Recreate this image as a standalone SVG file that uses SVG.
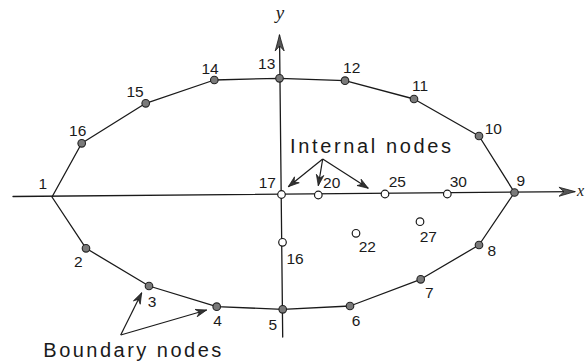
<svg xmlns="http://www.w3.org/2000/svg" width="587" height="364" viewBox="0 0 587 364">
<style>
.ln{fill:none;stroke:#1a1a1a;stroke-width:1.3;stroke-linecap:round;stroke-linejoin:round}
.ann{fill:none;stroke:#1a1a1a;stroke-width:1.2}
.bn{fill:#7a7a7a;stroke:#222;stroke-width:1.1}
.in{fill:#fff;stroke:#1a1a1a;stroke-width:1.2}
.lb{font-family:"Liberation Sans",Arial,sans-serif;font-size:15.5px;fill:#1a1a1a;text-anchor:middle}
.big{font-family:"Liberation Sans",Arial,sans-serif;font-size:20px;fill:#1a1a1a}
.ax{font-family:"Liberation Serif","Times New Roman",serif;font-style:italic;font-size:19px;fill:#1a1a1a}
</style>
<defs>
<marker id="axh" markerUnits="userSpaceOnUse" markerWidth="20" markerHeight="12" viewBox="-17 -6 18 12" refX="0" refY="0" orient="auto">
<path d="M0,0 L-16,-4.5 L-11,0 L-16,4.5 Z" fill="#555" stroke="#1a1a1a" stroke-width="0.8"/>
</marker>
<marker id="ah" markerUnits="userSpaceOnUse" markerWidth="14" markerHeight="10" viewBox="-12 -5 13 10" refX="0" refY="0" orient="auto">
<path d="M0,0 L-11,-3.8 L-7.5,0 L-11,3.8 Z" fill="#333" stroke="#1a1a1a" stroke-width="0.7"/>
</marker>
</defs>
<g id="connectors">
<line class="ln" x1="13" y1="196.5" x2="575" y2="191.6" marker-end="url(#axh)"/>
<line class="ln" x1="282.7" y1="337" x2="279.5" y2="35" marker-end="url(#axh)"/>
<polyline class="ln" points="52,197 81.7,143.3 145.7,103.3 214.3,80 279.5,78.3 345,80.7 414,99 479,136 514.5,192.5 479,245 420.7,279.3 350,306 282.7,309.3 216.7,306.7 149,286 86,248.3 52,197"/>
<line class="ann" x1="322.7" y1="159" x2="288.3" y2="186.7" marker-end="url(#ah)"/>
<line class="ann" x1="322.7" y1="159" x2="318.3" y2="185.7" marker-end="url(#ah)"/>
<line class="ann" x1="322.7" y1="159" x2="368.3" y2="188.3" marker-end="url(#ah)"/>
<line class="ann" x1="120.7" y1="335" x2="141.7" y2="292.7" marker-end="url(#ah)"/>
<line class="ann" x1="120.7" y1="335" x2="206.7" y2="310" marker-end="url(#ah)"/>
</g>
<g id="axis-labels">
<text class="ax" x="280" y="19" text-anchor="middle">y</text>
<text class="ax" x="577" y="196" style="font-size:16px">x</text>
</g>
<g id="n1"><text class="lb" x="42.7" y="188.5">1</text></g>
<g id="n2"><circle class="bn" cx="86" cy="248.3" r="3.8"/><text class="lb" x="78.3" y="267">2</text></g>
<g id="n3"><circle class="bn" cx="149" cy="286" r="3.8"/><text class="lb" x="152" y="307">3</text></g>
<g id="n4"><circle class="bn" cx="216.7" cy="306.7" r="3.8"/><text class="lb" x="217.5" y="325.5">4</text></g>
<g id="n5"><circle class="bn" cx="282.7" cy="309.3" r="3.8"/><text class="lb" x="272.7" y="329.5">5</text></g>
<g id="n6"><circle class="bn" cx="350" cy="306" r="3.8"/><text class="lb" x="356" y="326">6</text></g>
<g id="n7"><circle class="bn" cx="420.7" cy="279.3" r="3.8"/><text class="lb" x="429.3" y="298">7</text></g>
<g id="n8"><circle class="bn" cx="479" cy="245" r="3.8"/><text class="lb" x="491.7" y="256">8</text></g>
<g id="n9"><circle class="bn" cx="514.5" cy="192.5" r="3.8"/><text class="lb" x="520.7" y="185.5">9</text></g>
<g id="n10"><circle class="bn" cx="479" cy="136" r="3.8"/><text class="lb" x="493.3" y="133.5">10</text></g>
<g id="n11"><circle class="bn" cx="414" cy="99" r="3.8"/><text class="lb" x="420" y="90.5">11</text></g>
<g id="n12"><circle class="bn" cx="345" cy="80.7" r="3.8"/><text class="lb" x="351.7" y="72.5">12</text></g>
<g id="n13"><circle class="bn" cx="279.5" cy="78.3" r="3.8"/><text class="lb" x="266.7" y="68.5">13</text></g>
<g id="n14"><circle class="bn" cx="214.3" cy="80" r="3.8"/><text class="lb" x="210" y="73.5">14</text></g>
<g id="n15"><circle class="bn" cx="145.7" cy="103.3" r="3.8"/><text class="lb" x="135" y="96.5">15</text></g>
<g id="n16"><circle class="bn" cx="81.7" cy="143.3" r="3.8"/><text class="lb" x="77.7" y="135.5">16</text></g>
<g id="i17"><circle class="in" cx="281.5" cy="194.5" r="3.8"/><text class="lb" x="267.3" y="187.8">17</text></g>
<g id="i16"><circle class="in" cx="282.5" cy="242.3" r="3.8"/><text class="lb" x="295" y="263.8">16</text></g>
<g id="i20"><circle class="in" cx="318.3" cy="195" r="3.8"/><text class="lb" x="331.7" y="187.8">20</text></g>
<g id="i25"><circle class="in" cx="385" cy="194" r="3.8"/><text class="lb" x="397.3" y="186.5">25</text></g>
<g id="i30"><circle class="in" cx="447.3" cy="194" r="3.8"/><text class="lb" x="458.3" y="187.2">30</text></g>
<g id="i22"><circle class="in" cx="356" cy="233.3" r="3.8"/><text class="lb" x="367.3" y="251.5">22</text></g>
<g id="i27"><circle class="in" cx="420" cy="221.7" r="3.8"/><text class="lb" x="428.3" y="242.2">27</text></g>
<g id="label-internal"><text class="big" x="290" y="153" textLength="161" lengthAdjust="spacing">Internal nodes</text></g>
<g id="label-boundary"><text class="big" x="43.3" y="356.7" textLength="178" lengthAdjust="spacing">Boundary nodes</text></g>
</svg>
